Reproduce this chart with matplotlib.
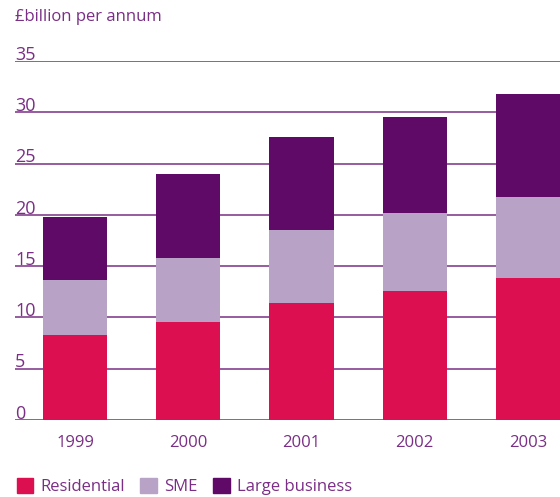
import matplotlib.pyplot as plt
import matplotlib.transforms as mtransforms
from matplotlib.patches import Patch
import numpy as np

plt.rcParams['font.family'] = ['Open Sans', 'DejaVu Sans']

years = ['1999', '2000', '2001', '2002', '2003']
residential = [8.3, 9.6, 11.4, 12.6, 13.8]
sme = [5.35, 6.15, 7.1, 7.6, 7.9]
large_business = [6.1, 8.2, 9.05, 9.3, 10.05]
y_ticks = [0, 5, 10, 15, 20, 25, 30, 35]

c_res = '#dc0f50'
c_sme = '#b8a2c6'
c_large = '#5e0a66'
txt = '#7a2e85'
grid_c = '#8e4f96'

fig = plt.figure(figsize=(5.6, 4.97), dpi=100)
ax = fig.add_axes([15 / 560, 77 / 497, 545 / 560, 359 / 497])

x = np.arange(len(years))
w = 0.566
res = np.array(residential)
s = np.array(sme)
lb = np.array(large_business)

# gridlines with the value written just above the line
trans = mtransforms.blended_transform_factory(ax.transAxes, ax.transData)
for t in y_ticks:
    ax.axhline(t, color=grid_c, lw=1.3, zorder=1)
    ax.text(0, t + 0.12, str(t), transform=trans, ha='left', va='baseline',
            fontsize=13, color=txt)

ax.bar(x, res, w, color=c_res, zorder=2)
ax.bar(x, s, w, bottom=res, color=c_sme, zorder=2)
ax.bar(x, lb, w, bottom=res + s, color=c_large, zorder=2)

ax.set_xlim(-0.53, 4.283)
ax.set_ylim(0, 35)
ax.set_xticks(x)
ax.set_xticklabels(years, fontsize=12, color=txt)
ax.tick_params(axis='x', length=0, pad=11)
ax.set_yticks([])
for sp in ax.spines.values():
    sp.set_visible(False)

fig.text(15 / 560, 1 - 17 / 497, '£billion per annum', ha='left', va='center',
         fontsize=12, color=txt)

handles = [Patch(color=c_res, label='Residential'),
           Patch(color=c_sme, label='SME'),
           Patch(color=c_large, label='Large business')]
leg = fig.legend(handles=handles, loc='lower left', bbox_to_anchor=(15 / 560, 0.0),
                 bbox_transform=fig.transFigure, ncol=3, frameon=False,
                 fontsize=12, handlelength=1.0, handleheight=1.0,
                 handletextpad=0.45, columnspacing=0.9, borderaxespad=0.1,
                 borderpad=0.0)
for t in leg.get_texts():
    t.set_color(txt)

fig.savefig('out.png', dpi=100)
